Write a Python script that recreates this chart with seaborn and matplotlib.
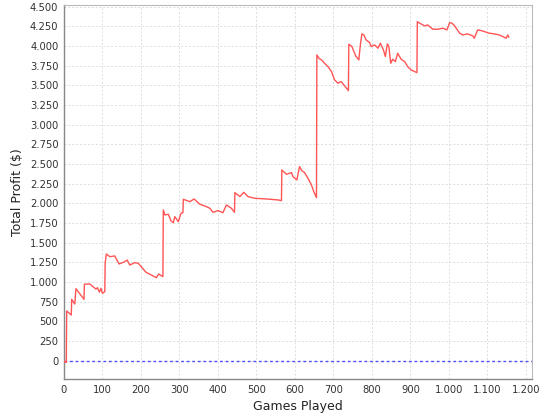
import matplotlib
matplotlib.use("Agg")
import matplotlib.pyplot as plt
import matplotlib.ticker as mticker
import pandas as pd
import seaborn as sns

# cumulative profit
games = [0, 3, 6, 7, 19, 20, 28, 31, 52, 53, 67, 83, 87, 92, 96, 100, 106, 107, 110,
         119, 132, 143, 158, 164, 171, 184, 193, 202, 213, 223, 240, 246, 257,
         258, 262, 271, 278, 284, 288, 297, 304, 309, 310, 327, 338, 353, 366, 379,
         387, 400, 413, 422, 435, 443, 444, 457, 467, 478, 496, 526, 556, 565,
         566, 578, 586, 591, 595, 605, 612, 618, 625, 634, 643, 649, 656,
         657, 662, 669, 677, 686, 695, 703, 712, 720, 729, 739,
         740, 748, 758, 766, 770, 774, 779, 785, 794, 798, 807, 816, 822, 830, 835,
         840, 844, 849, 854, 861, 867, 876, 885, 893, 902, 917,
         918, 924, 937, 945, 958, 971, 984, 995, 1002, 1008, 1015, 1028, 1036, 1049,
         1062, 1066, 1075, 1084, 1092, 1105, 1118, 1131, 1140, 1149, 1153, 1156]
profit = [0, -20, -20, 632, 580, 780, 720, 915, 780, 971, 975, 910, 928, 870, 920, 857, 877, 1238, 1356,
          1322, 1331, 1229, 1258, 1280, 1216, 1246, 1238, 1187, 1124, 1098, 1055, 1102, 1068,
          1916, 1852, 1861, 1776, 1754, 1830, 1767, 1874, 1881, 2051, 2021, 2055, 1988, 1966, 1937,
          1886, 1907, 1881, 1979, 1937, 1886, 2136, 2085, 2140, 2085, 2064, 2055, 2043, 2034,
          2424, 2369, 2382, 2390, 2339, 2297, 2466, 2415, 2390, 2318, 2233, 2148, 2072,
          3886, 3844, 3822, 3780, 3737, 3674, 3568, 3526, 3547, 3492, 3432,
          4022, 3992, 3873, 3822, 4013, 4153, 4140, 4077, 4042, 3992, 4013, 3971, 4035, 3949, 3865,
          4026, 3992, 3780, 3831, 3801, 3907, 3831, 3801, 3737, 3695, 3661,
          4309, 4289, 4255, 4267, 4212, 4212, 4225, 4204, 4296, 4289, 4255, 4162, 4140, 4153,
          4127, 4098, 4204, 4195, 4182, 4162, 4153, 4140, 4119, 4098, 4140, 4111]

df = pd.DataFrame({"Games Played": games, "Total Profit ($)": profit})

sns.set_style("white")
plt.rcParams["font.family"] = ["DejaVu Sans"]

fig = plt.figure(figsize=(5.4, 4.2), dpi=100)
ax = fig.add_axes([0.1185, 0.097, 0.866, 0.892])

sns.lineplot(data=df, x="Games Played", y="Total Profit ($)", color="#ff5555",
             linewidth=1.0, estimator=None, sort=False, ax=ax, zorder=3)
ax.axhline(0, color="#4d4dff", linestyle=(0, (2, 2)), linewidth=1.0, zorder=2)

ax.set_xlim(0, 1215)
ax.set_ylim(-236, 4525)
ax.xaxis.set_major_locator(mticker.MultipleLocator(100))
ax.yaxis.set_major_locator(mticker.MultipleLocator(250))
fmt = mticker.FuncFormatter(lambda v, p: f"{v:,.0f}".replace(",", "."))
ax.xaxis.set_major_formatter(fmt)
ax.yaxis.set_major_formatter(fmt)

ax.grid(True, color="#dddddd", linestyle=(0, (2, 2)), linewidth=0.7)
ax.set_axisbelow(True)
for side in ["top", "right"]:
    ax.spines[side].set_color("#bbbbbb")
    ax.spines[side].set_linewidth(0.8)
for side in ["left", "bottom"]:
    ax.spines[side].set_color("#888888")
    ax.spines[side].set_linewidth(1.0)
ax.tick_params(axis="both", length=2, width=0.8, color="#888888", labelsize=7.2,
               pad=2, labelcolor="#333333")
ax.set_xlabel("Games Played", fontsize=9, color="#222222", labelpad=4)
ax.set_ylabel("Total Profit ($)", fontsize=9, color="#222222", labelpad=4)

fig.savefig("out.png", dpi=100)
